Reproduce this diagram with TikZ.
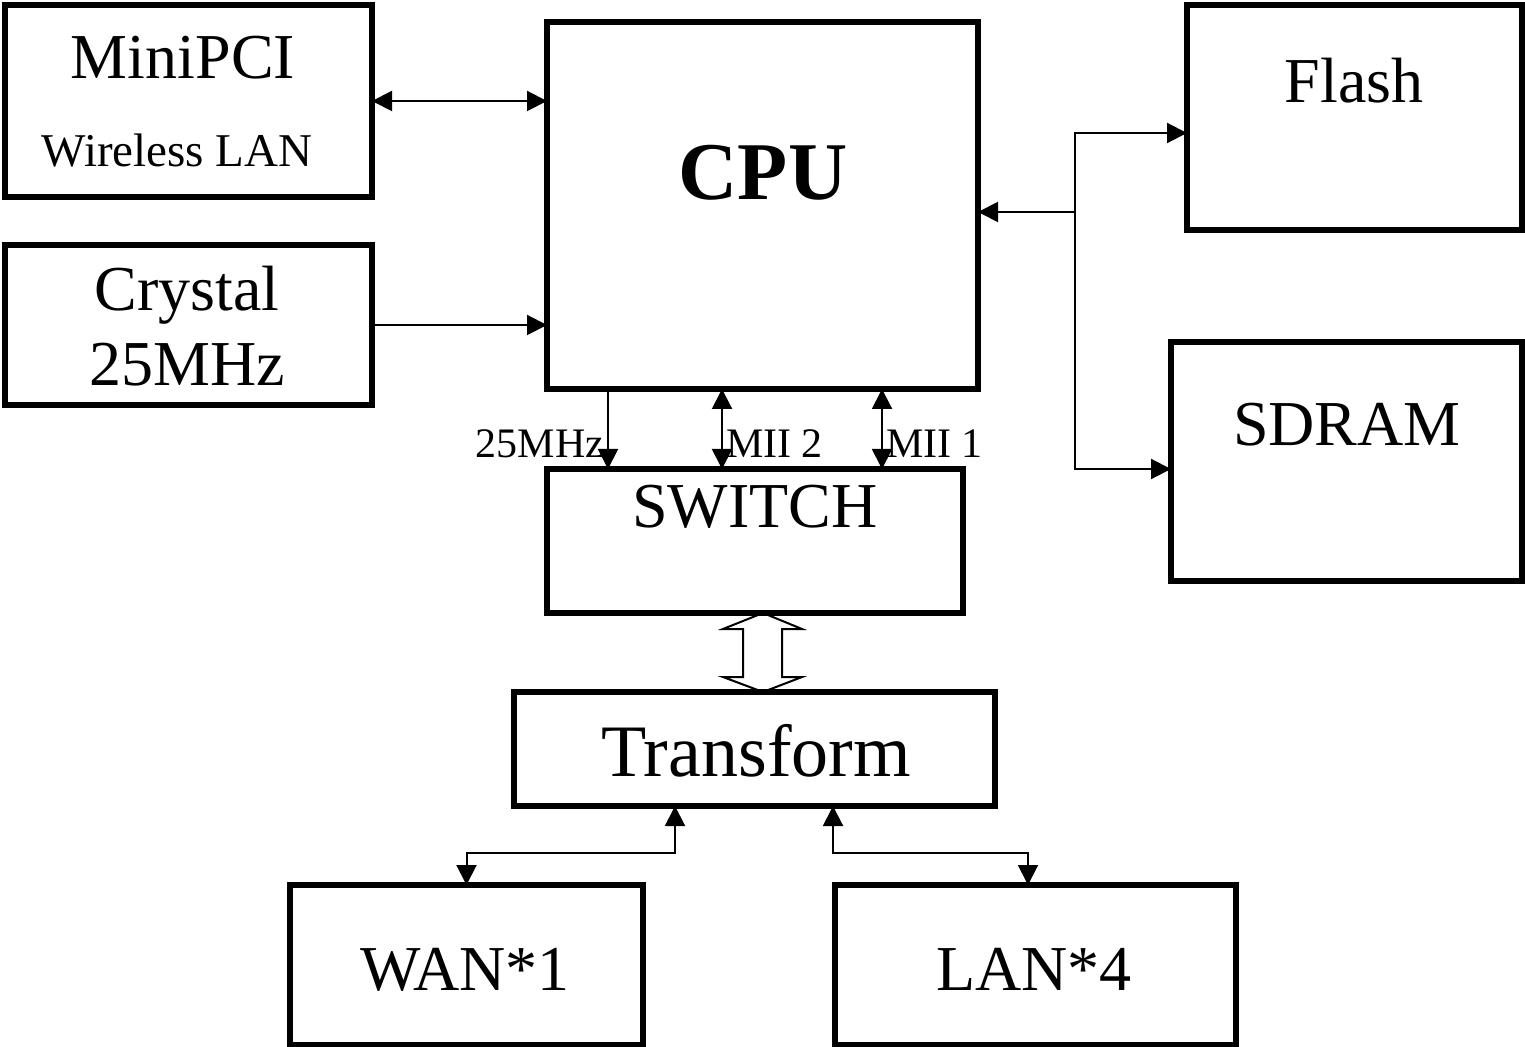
\documentclass[tikz,border=0pt]{standalone}
\usepackage{fontspec}
\setmainfont{Liberation Serif}
\usetikzlibrary{arrows.meta,calc}

\begin{document}
\begin{tikzpicture}[x=0.5pt,y=-0.5pt,
  box/.style={draw,line width=2.6pt,outer sep=0pt,inner sep=0pt},
  link/.style={line width=1pt,-{Triangle[length=10pt,width=10pt]}},
  dlink/.style={line width=1pt,{Triangle[length=10pt,width=10pt]}-{Triangle[length=10pt,width=10pt]}},
  txt/.style={anchor=base,inner sep=0pt,font=\fontsize{32}{36}\selectfont},
  lbl/.style={inner sep=1.5pt,font=\fontsize{21}{24}\selectfont}]
  \useasboundingbox (0,0) rectangle (1525,1047);

  \node[box,minimum width=183.5pt,minimum height=96pt] (mini) at (188.5,101) {};
  \node[box,minimum width=183.5pt,minimum height=80pt] (crystal) at (188.5,325) {};
  \node[box,minimum width=215.5pt,minimum height=183.5pt] (cpu) at (762.5,205.5) {};
  \node[box,minimum width=167.5pt,minimum height=112.5pt] (flash) at (1354.5,117.5) {};
  \node[box,minimum width=175.5pt,minimum height=119.5pt] (sdram) at (1346.5,461.5) {};
  \node[box,minimum width=208pt,minimum height=72pt] (switch) at (755,541) {};
  \node[box,minimum width=240.5pt,minimum height=57pt] (transform) at (754.5,749) {};
  \node[box,minimum width=176.5pt,minimum height=80pt] (wan) at (466.5,965) {};
  \node[box,minimum width=200.5pt,minimum height=80pt] (lan) at (1035.5,965) {};

  \node[txt] (minitext) at (183,79) {MiniPCI};
  \node[txt,font=\fontsize{23.5}{26}\selectfont] (wlantext) at (177,167) {Wireless LAN};
  \node[txt,font=\fontsize{41}{46}\bfseries] (cputext) at (763,200) {CPU};
  \node[txt] (flashtext) at (1354,103) {Flash};
  \node[txt] (crystaltext) at (187,311) {Crystal};
  \node[txt] (mhztext) at (187,386) {25MHz};
  \node[txt] (sdramtext) at (1347,446) {SDRAM};
  \node[txt] (switchtext) at (755,528) {SWITCH};
  \node[txt,font=\fontsize{37}{42}\selectfont] (transformtext) at (756,776) {Transform};
  \node[txt] (wantext) at (465,990) {WAN*1};
  \node[txt] (lantext) at (1034,990) {LAN*4};

  \draw[dlink] (mini.east) -- (mini.east -| cpu.west);
  \draw[link] (crystal.east) -- (crystal.east -| cpu.west);

  \coordinate (bus) at (1075,212);
  \coordinate (fl) at (1075,133);
  \coordinate (sd) at (1075,469);
  \draw[link] (bus) -- (bus -| cpu.east);
  \draw[link] (bus) -- (fl) -- (fl -| flash.west);
  \draw[link] (bus) -- (sd) -- (sd -| sdram.west);

  \coordinate (clk) at (608,0);
  \coordinate (mii2) at (722,0);
  \coordinate (mii1) at (882,0);
  \draw[link] (clk |- cpu.south) -- (clk |- switch.north) node[pos=.68,left,lbl] {25MHz};
  \draw[dlink] (mii2 |- cpu.south) -- (mii2 |- switch.north) node[pos=.68,right,lbl] {MII 2};
  \draw[dlink] (mii1 |- cpu.south) -- (mii1 |- switch.north) node[pos=.68,right,lbl] {MII 1};

  \draw[line width=1pt] ($(switch.south)+(8,0)$) -- ++(39,16) -- ++(-20,0) -- ++(0,48) -- ++(20,0)
    -- ($(transform.north)+(8.5,0)$) -- ++(-40,-15) -- ++(20,0) -- ++(0,-48) -- ++(-20,0) -- cycle;

  \coordinate (wt) at (675,0);
  \coordinate (lt) at (833,0);
  \coordinate (lb) at (1028,0);
  \draw[dlink] (wt |- transform.south) -- ++(0,47) -| (wan.north);
  \draw[dlink] (lt |- transform.south) -- ++(0,47) -| (lb |- lan.north);
\end{tikzpicture}
\end{document}
